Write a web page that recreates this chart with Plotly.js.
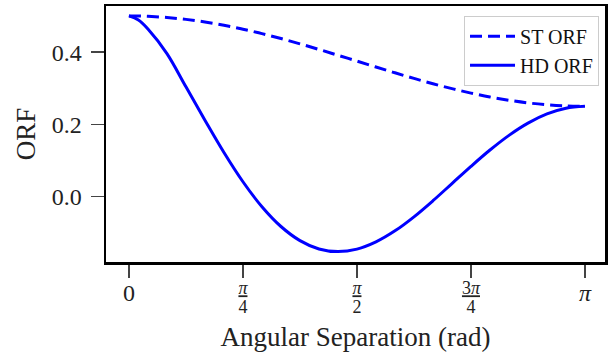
<!DOCTYPE html>
<html>
<head>
<meta charset="utf-8">
<script src="https://cdn.plot.ly/plotly-3.0.1.min.js"></script>
<style>html,body{margin:0;padding:0;background:#fff;}</style>
</head>
<body>
<div id="chart" style="width:608px;height:352px;"></div>
<script>
// Angular separation (rad)
var angles = [0, 0.06545, 0.1309, 0.2618, 0.3927, 0.5236, 0.6545, 0.7854, 0.9163, 1.0472,
  1.1781, 1.3090, 1.4399, 1.5708, 1.7017, 1.8326, 1.9635, 2.0944, 2.2253, 2.3562,
  2.4871, 2.6180, 2.7489, 2.8798, 3.0107, 3.1416];
// ST ORF values
var stORF = [0.5, 0.4997, 0.4989, 0.4957, 0.4905, 0.4833, 0.4742, 0.4634, 0.4511, 0.4375,
  0.4228, 0.4074, 0.3913, 0.375, 0.3587, 0.3427, 0.3272, 0.3125, 0.2989, 0.2866,
  0.2758, 0.2668, 0.2595, 0.2543, 0.2511, 0.25];
// HD ORF values
var hdORF = [0.5, 0.4888, 0.4639, 0.3957, 0.3039, 0.2116, 0.1224, 0.0414, -0.0277, -0.0824,
  -0.1214, -0.1445, -0.1519, -0.1449, -0.1250, -0.0945, -0.0556, -0.0111, 0.0363, 0.0839,
  0.1291, 0.1697, 0.2035, 0.2289, 0.2447, 0.25];

var xTickVals = [0, Math.PI / 4, Math.PI / 2, 3 * Math.PI / 4, Math.PI];
var xTickText = [
  "<span style='font-size:24px;baseline-shift:-7px'>0</span>",
  "<span style='font-size:18px'><u><i>π</i></u></span><br><span style='font-size:18px'>4</span>",
  "<span style='font-size:18px'><u><i>π</i></u></span><br><span style='font-size:18px'>2</span>",
  "<span style='font-size:18px'><u>3<i>π</i></u></span><br><span style='font-size:18px'>4</span>",
  "<span style='font-size:24px;baseline-shift:-7px'><i>π</i></span>"
];
var yTickVals = [0.0, 0.2, 0.4];
var yTickText = ["0.0", "0.2", "0.4"];
var seriesNames = ["ST ORF", "HD ORF"];

var fontFam = "Liberation Serif";

var traces = [
  {
    x: angles, y: stORF, name: seriesNames[0], type: "scatter", mode: "lines",
    line: {color: "#0000ff", width: 3, dash: "12px,6px", shape: "spline"}
  },
  {
    x: angles, y: hdORF, name: seriesNames[1], type: "scatter", mode: "lines",
    line: {color: "#0000ff", width: 3, shape: "spline"}
  }
];

var layout = {
  width: 608, height: 352,
  margin: {l: 106, r: 3, t: 6, b: 90, pad: 0},
  paper_bgcolor: "#ffffff", plot_bgcolor: "#ffffff",
  font: {family: fontFam, color: "#222"},
  showlegend: true,
  legend: {
    x: 0.988, y: 0.962, xanchor: "right", yanchor: "top",
    bgcolor: "#ffffff", bordercolor: "#cccccc", borderwidth: 1,
    font: {family: fontFam, size: 20, color: "#111"},
    itemwidth: 45,
    traceorder: "normal", tracegroupgap: 0
  },
  xaxis: {
    range: [-0.158, 3.2795],
    tickvals: xTickVals, ticktext: xTickText,
    tickfont: {family: fontFam, size: 14, color: "#222"},
    ticks: "outside", ticklen: 13, tickwidth: 1.5, tickcolor: "#444",
    showline: true, linecolor: "#000", linewidth: 2.5, mirror: true,
    showgrid: false, zeroline: false,
    title: {text: "Angular Separation (rad)", font: {family: fontFam, size: 27, color: "#222"}, standoff: 12},
    automargin: false
  },
  yaxis: {
    range: [-0.1806, 0.5275],
    tickvals: yTickVals, ticktext: yTickText,
    tickfont: {family: fontFam, size: 24, color: "#222"},
    ticks: "outside", ticklen: 13, tickwidth: 1.5, tickcolor: "#444",
    ticklabelstandoff: 4,
    showline: true, linecolor: "#000", linewidth: 2.5, mirror: true,
    showgrid: false, zeroline: false,
    title: {text: "ORF", font: {family: fontFam, size: 27, color: "#222"}, standoff: 9},
    automargin: false
  }
};

Plotly.newPlot("chart", traces, layout, {displayModeBar: false, staticPlot: true});
</script>
</body>
</html>
